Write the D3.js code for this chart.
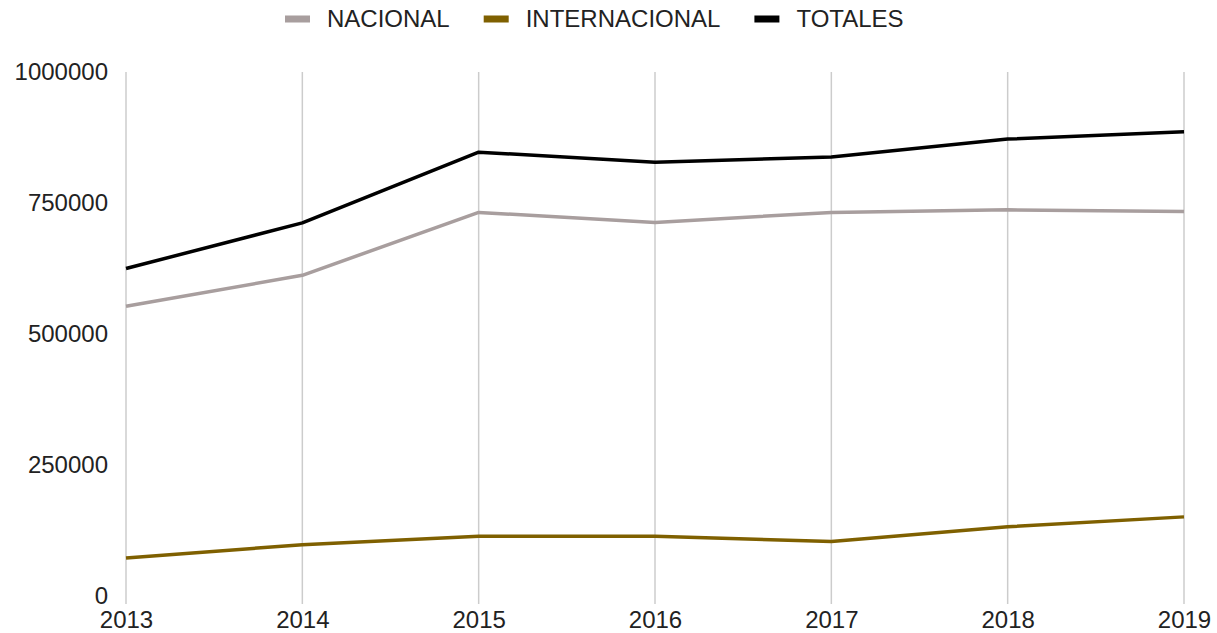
<!DOCTYPE html>
<html>
<head>
<meta charset="utf-8">
<script src="https://cdn.jsdelivr.net/npm/d3@7"></script>
<style>
  body { margin: 0; background: #fff; }
  svg text { font-family: "Liberation Sans", Arial, sans-serif; fill: #222; }
</style>
</head>
<body>
<svg width="1217" height="633"></svg>
<script>
const years = ["2013", "2014", "2015", "2016", "2017", "2018", "2019"];
const nacional = [553000, 612000, 732000, 713000, 732000, 737000, 734000];
const internacional = [72500, 98000, 114000, 114000, 104000, 132000, 151000];
const totales = [625000, 712000, 847000, 828000, 838000, 872000, 886000];
const yTicks = [0, 250000, 500000, 750000, 1000000];

const series = [
  { name: "NACIONAL", values: nacional, color: "#a89e9e" },
  { name: "INTERNACIONAL", values: internacional, color: "#7f6000" },
  { name: "TOTALES", values: totales, color: "#000000" },
];

const width = 1217, height = 633;
const margin = { top: 72, right: 33, bottom: 37, left: 126 };
const fontSize = 24;
const svg = d3.select("svg");

const x = d3.scalePoint().domain(years).range([margin.left, width - margin.right]);
const y = d3.scaleLinear().domain([0, 1000000]).range([height - margin.bottom, margin.top]);

// vertical grid
svg.append("g")
  .selectAll("line")
  .data(years)
  .join("line")
  .attr("x1", (d) => x(d)).attr("x2", (d) => x(d))
  .attr("y1", y(1000000)).attr("y2", y(0) + 8)
  .attr("stroke", "#cccccc")
  .attr("stroke-width", 1.5);

// y axis labels
svg.append("g")
  .attr("transform", `translate(${margin.left - 15},0)`)
  .call(d3.axisLeft(y).tickValues(yTicks).tickSize(0).tickFormat(d3.format("d")))
  .call((g) => g.select(".domain").remove())
  .call((g) => g.selectAll("text").attr("font-size", fontSize).attr("fill", "#222")
    .style("font-family", "Liberation Sans, Arial, sans-serif"));

// x axis labels
svg.append("g")
  .attr("transform", `translate(0,${y(0) + 12})`)
  .call(d3.axisBottom(x).tickSize(0))
  .call((g) => g.select(".domain").remove())
  .call((g) => g.selectAll("text").attr("font-size", fontSize).attr("fill", "#222")
    .style("font-family", "Liberation Sans, Arial, sans-serif"));

// lines
const line = d3.line().x((d, i) => x(years[i])).y((d) => y(d));
svg.append("g")
  .selectAll("path")
  .data(series)
  .join("path")
  .attr("d", (s) => line(s.values))
  .attr("fill", "none")
  .attr("stroke", (s) => s.color)
  .attr("stroke-width", 3.5)
  .attr("stroke-linejoin", "round");

// legend
const legend = svg.append("g").attr("id", "legend");
let lx = 0;
series.forEach((s) => {
  const item = legend.append("g").attr("transform", `translate(${lx},0)`);
  item.append("rect").attr("x", 0).attr("y", -3.5).attr("width", 25).attr("height", 7).attr("fill", s.color);
  const t = item.append("text").attr("x", 42).attr("y", 0).attr("dy", "0.35em")
    .attr("font-size", fontSize).text(s.name);
  lx += 42 + t.node().getComputedTextLength() + 34;
});
legend.attr("transform", `translate(285,19)`);
</script>
</body>
</html>
